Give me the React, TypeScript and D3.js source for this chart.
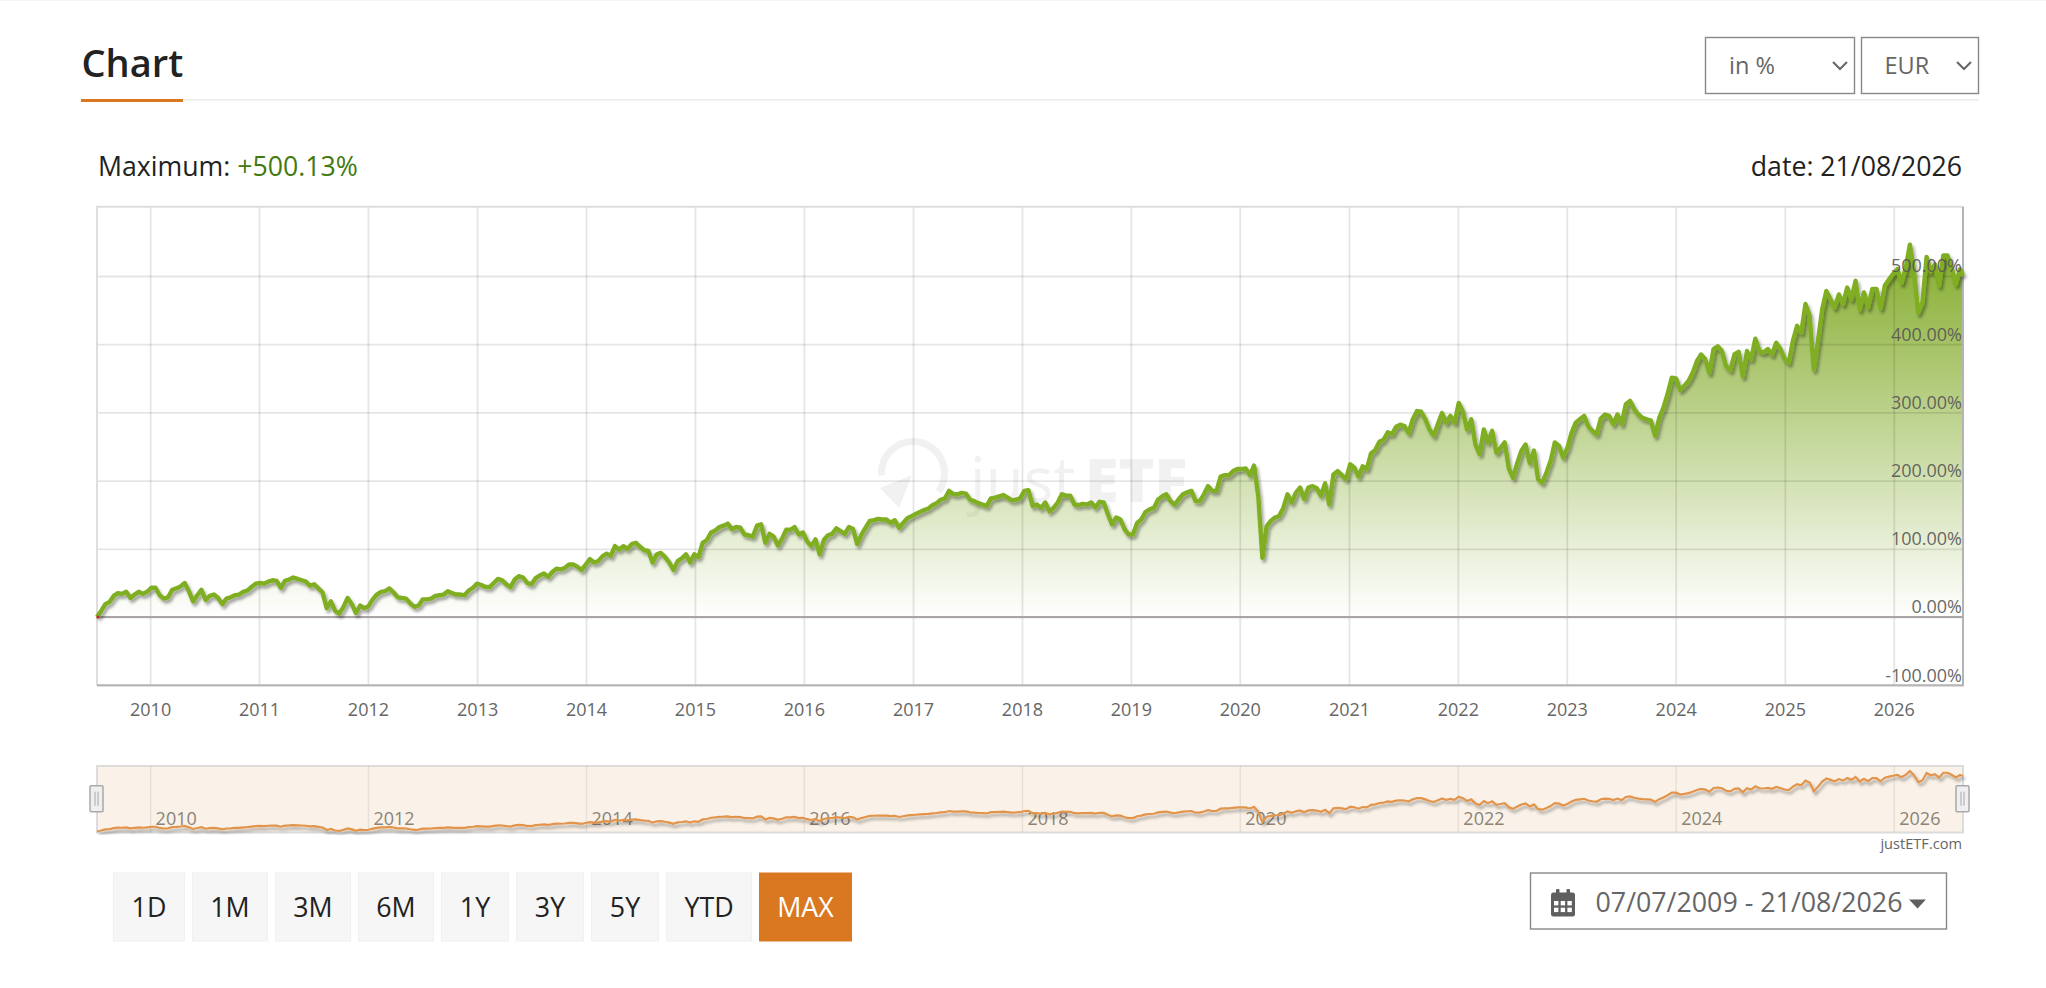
import { useEffect, useRef } from "react";
import * as d3 from "d3";

// cumulative return in %, every 14 days from the start date
const y2009 = [0, 9, 19, 22, 31, 35, 34, 37, 28, 33, 37, 34, 37];
const y2010 = [43, 43, 32, 27, 29, 40, 42, 45, 50, 38, 23, 32, 40, 25, 31, 33, 28, 19, 27, 29, 32, 33, 37, 39, 44, 49];
const y2011 = [50, 49, 52, 54, 53, 43, 53, 55, 58, 56, 54, 52, 46, 48, 42, 36, 13, 23, 9, 5, 15, 28, 19, 6, 17, 13];
const y2012 = [16, 26, 33, 37, 38, 42, 36, 29, 28, 27, 20, 15, 17, 26, 26, 27, 31, 32, 33, 38, 35, 33, 33, 32, 39, 43];
const y2013 = [49, 47, 44, 44, 50, 56, 54, 48, 44, 55, 60, 58, 50, 48, 57, 61, 64, 59, 66, 71, 70, 72, 77, 77, 74, 69, 77];
const y2014 = [85, 80, 82, 89, 93, 90, 104, 99, 104, 100, 107, 109, 103, 98, 97, 80, 92, 94, 88, 80, 69, 82, 86, 92, 80, 92];
const y2015 = [88, 109, 113, 124, 127, 132, 134, 137, 129, 132, 131, 121, 120, 118, 134, 136, 109, 122, 118, 105, 115, 128, 128, 132, 121, 124];
const y2016 = [111, 104, 114, 92, 113, 120, 122, 130, 126, 122, 132, 129, 107, 121, 131, 141, 142, 144, 143, 143, 138, 142, 131, 138, 145, 148];
const y2017 = [151, 154, 157, 159, 164, 167, 172, 174, 185, 180, 180, 182, 181, 172, 170, 167, 165, 163, 174, 175, 177, 179, 175, 171, 172, 174];
const y2018 = [185, 186, 163, 165, 160, 168, 155, 160, 168, 180, 178, 178, 165, 164, 166, 165, 168, 161, 169, 168, 151, 136, 146, 143, 129, 121];
const y2019 = [121, 138, 143, 154, 158, 160, 172, 177, 180, 170, 165, 173, 180, 183, 185, 170, 170, 180, 192, 185, 185, 206, 208, 208, 214, 217];
const y2020 = [217, 218, 208, 222, 178, 87, 133, 141, 146, 148, 160, 180, 168, 182, 190, 173, 190, 192, 189, 178, 196, 165, 209, 214, 208, 202];
const y2021 = [224, 219, 206, 221, 217, 240, 245, 257, 260, 271, 268, 279, 282, 280, 270, 290, 302, 301, 290, 275, 266, 283, 299, 285, 295, 285];
const y2022 = [314, 301, 275, 290, 253, 239, 275, 256, 273, 241, 248, 256, 218, 204, 226, 244, 253, 226, 244, 202, 197, 212, 229, 256, 251, 234];
const y2023 = [248, 270, 285, 290, 295, 280, 273, 268, 291, 297, 295, 283, 297, 283, 312, 317, 305, 297, 292, 290, 288, 266, 292, 307, 327, 351];
const y2024 = [350, 333, 339, 346, 358, 375, 385, 378, 358, 393, 397, 390, 368, 362, 385, 389, 353, 390, 378, 408, 390, 388, 393, 385, 402, 393, 379];
const y2025 = [373, 405, 427, 417, 459, 442, 363, 405, 451, 478, 466, 454, 473, 459, 483, 466, 493, 451, 476, 454, 481, 481, 453, 486, 495, 503];
const y2026 = [510, 490, 512, 546, 507, 446, 461, 528, 507, 517, 486, 530, 530, 512, 488, 510, 500.13];

const yTicks = [-100, 0, 100, 200, 300, 400, 500];
const rangeLabels = ["1D", "1M", "3M", "6M", "1Y", "3Y", "5Y", "YTD", "MAX"];
const rangeWidths = [71, 75, 75, 75, 67, 67, 67, 85, 92];

const startDate = new Date(2009, 6, 7);
const endDate = new Date(2026, 7, 21);
const stepDays = 14;

const values = [
  ...y2009, ...y2010, ...y2011, ...y2012, ...y2013, ...y2014, ...y2015, ...y2016, ...y2017,
  ...y2018, ...y2019, ...y2020, ...y2021, ...y2022, ...y2023, ...y2024, ...y2025, ...y2026,
];
const points = values.map((value, i) => {
  const date = d3.timeDay.offset(startDate, i * stepDays);
  return { date: date > endDate ? endDate : date, value };
});

const font = "'Open Sans', sans-serif";
const orange = "#da7821";
const left = 97;
const right = 1963;
const top = 206.7;
const bottom = 685.3;

const App = () => {
  const chartRef = useRef<SVGGElement | null>(null);

  useEffect(() => {
    if (!chartRef.current) return;
    const g = d3.select(chartRef.current);
    g.selectAll("*").remove();

    const x = d3.scaleTime().domain([startDate, endDate]).range([left, right]);
    const y = d3.scaleLinear().domain([-100, 500]).range([bottom, 276]);
    const navTop = 766;
    const navBottom = 832.5;
    const navY = d3
      .scaleLinear()
      .domain(d3.extent(values) as [number, number])
      .range([831.5, 771]);

    const defs = g.append("defs");
    const gradient = defs
      .append("linearGradient")
      .attr("id", "area-gradient")
      .attr("gradientUnits", "userSpaceOnUse")
      .attr("x1", 0)
      .attr("x2", 0)
      .attr("y1", y(546))
      .attr("y2", y(0));
    gradient.append("stop").attr("offset", "0%").attr("stop-color", "#7ea822").attr("stop-opacity", 0.95);
    gradient.append("stop").attr("offset", "100%").attr("stop-color", "#7ea822").attr("stop-opacity", 0);
    defs
      .append("filter")
      .attr("id", "line-shadow")
      .attr("x", "-2%")
      .attr("y", "-5%")
      .attr("width", "104%")
      .attr("height", "110%")
      .append("feDropShadow")
      .attr("dx", 2)
      .attr("dy", 3)
      .attr("stdDeviation", 1.4)
      .attr("flood-color", "#000")
      .attr("flood-opacity", 0.35);

    // watermark
    const mark = g.append("g").attr("fill", "#f1f1f1");
    const logoX = 913;
    const logoY = 473;
    mark
      .append("path")
      .attr("transform", `translate(${logoX},${logoY})`)
      .attr(
        "d",
        d3.arc()({ innerRadius: 28, outerRadius: 35, startAngle: -1.65, endAngle: 2.2 }) as string,
      );
    mark
      .append("path")
      .attr("transform", `translate(${logoX},${logoY})`)
      .attr("d", d3.line()([[-33, 15], [-1, 2], [-14, 35], [-33, 15]]) as string);
    mark
      .append("text")
      .attr("x", 970)
      .attr("y", 501.7)
      .attr("font-family", font)
      .attr("font-weight", 500)
      .attr("font-size", 62)
      .text("just");
    mark
      .append("text")
      .attr("x", 1085)
      .attr("y", 501.7)
      .attr("font-family", font)
      .attr("font-weight", 800)
      .attr("font-size", 61)
      .text("ETF");

    // area below the line
    const area = d3
      .area<{ date: Date; value: number }>()
      .x((d) => x(d.date))
      .y0(y(0))
      .y1((d) => y(d.value));
    g.append("path").datum(points).attr("d", area).attr("fill", "url(#area-gradient)");

    // grid, on top of the area
    const gridColor = "rgba(0,0,0,0.1)";
    const xGrid = d3
      .axisBottom(x)
      .ticks(d3.timeYear.every(1) as d3.TimeInterval)
      .tickSize(top - bottom)
      .tickFormat(() => "");
    g.append("g")
      .attr("transform", `translate(0,${bottom})`)
      .call(xGrid)
      .call((s) => s.select(".domain").remove())
      .call((s) => s.selectAll(".tick line").attr("stroke", gridColor).attr("stroke-width", 1.8));
    const yGrid = d3
      .axisLeft(y)
      .tickValues(yTicks)
      .tickSize(left - right)
      .tickFormat(() => "");
    g.append("g")
      .attr("transform", `translate(${left},0)`)
      .call(yGrid)
      .call((s) => s.select(".domain").remove())
      .call((s) => s.selectAll(".tick line").attr("stroke", gridColor).attr("stroke-width", 1.8));

    // frame
    const frame = g.append("g").attr("fill", "none");
    frame.append("path").attr("d", `M${left},${bottom}V${top}H${right}`).attr("stroke", "#dedede").attr("stroke-width", 2);
    frame.append("path").attr("d", `M${right},${top}V${bottom}H${left}`).attr("stroke", "#b4b4b4").attr("stroke-width", 2);
    frame.append("line").attr("x1", left).attr("x2", right).attr("y1", y(0)).attr("y2", y(0)).attr("stroke", "#aaa5a5").attr("stroke-width", 2);

    // main line
    const line = d3
      .line<{ date: Date; value: number }>()
      .x((d) => x(d.date))
      .y((d) => y(d.value));
    g.append("path")
      .datum(points)
      .attr("d", line)
      .attr("fill", "none")
      .attr("stroke", "#7fae20")
      .attr("stroke-width", 4.4)
      .attr("stroke-linejoin", "round")
      .attr("filter", "url(#line-shadow)");
    g.append("circle").attr("cx", x(startDate) + 1).attr("cy", y(0)).attr("r", 1.6).attr("fill", "#c0262a");

    // axes
    const xAxis = d3
      .axisBottom(x)
      .ticks(d3.timeYear.every(1) as d3.TimeInterval)
      .tickSize(0)
      .tickFormat(d3.timeFormat("%Y") as (d: Date | d3.NumberValue) => string);
    g.append("g")
      .attr("transform", `translate(0,${bottom})`)
      .call(xAxis)
      .call((s) => s.select(".domain").remove())
      .call((s) =>
        s
          .selectAll("text")
          .attr("y", 31)
          .attr("dy", 0)
          .attr("fill", "#666")
          .attr("font-family", font)
          .attr("font-size", 18),
      );
    const yAxis = d3
      .axisLeft(y)
      .tickValues(yTicks)
      .tickSize(0)
      .tickFormat((d) => `${(d as number).toFixed(2)}%`);
    g.append("g")
      .attr("transform", `translate(${right - 1},0)`)
      .call(yAxis)
      .call((s) => s.select(".domain").remove())
      .call((s) =>
        s
          .selectAll("text")
          .attr("x", 0)
          .attr("dy", -4.2)
          .attr("text-anchor", "end")
          .attr("fill", "#555")
          .attr("fill-opacity", 0.9)
          .attr("font-family", font)
          .attr("font-size", 18),
      );

    // navigator
    g.append("rect")
      .attr("x", left)
      .attr("y", navTop)
      .attr("width", right - left)
      .attr("height", navBottom - navTop)
      .attr("fill", "#faf2e8")
      .attr("stroke", "#dcdcdc")
      .attr("stroke-width", 2);
    const navAxis = d3
      .axisBottom(x)
      .ticks(d3.timeYear.every(2) as d3.TimeInterval)
      .tickSize(navTop - navBottom)
      .tickFormat(d3.timeFormat("%Y") as (d: Date | d3.NumberValue) => string);
    g.append("g")
      .attr("transform", `translate(0,${navBottom})`)
      .call(navAxis)
      .call((s) => s.select(".domain").remove())
      .call((s) => s.selectAll(".tick line").attr("stroke", "rgba(0,0,0,0.07)").attr("stroke-width", 1.5))
      .call((s) =>
        s
          .selectAll("text")
          .attr("x", 5)
          .attr("y", -8)
          .attr("dy", 0)
          .attr("text-anchor", "start")
          .attr("fill", "#8c8377")
          .attr("font-family", font)
          .attr("font-size", 18),
      );
    const navLine = d3
      .line<{ date: Date; value: number }>()
      .x((d) => x(d.date))
      .y((d) => navY(d.value));
    g.append("path")
      .datum(points)
      .attr("d", navLine)
      .attr("fill", "none")
      .attr("stroke", "#e2944c")
      .attr("stroke-width", 2.2)
      .attr("filter", "url(#line-shadow)");

    // navigator handles
    [left, right].forEach((hx) => {
      const handle = g.append("g").attr("transform", `translate(${hx - 0.5},798.7)`);
      handle
        .append("rect")
        .attr("x", -6.5)
        .attr("y", -13)
        .attr("width", 13)
        .attr("height", 26)
        .attr("rx", 1)
        .attr("fill", "#efefef")
        .attr("stroke", "#a9a9a9")
        .attr("stroke-width", 1.5);
      [-1.5, 1.5].forEach((dx) =>
        handle
          .append("line")
          .attr("x1", dx)
          .attr("x2", dx)
          .attr("y1", -7)
          .attr("y2", 7)
          .attr("stroke", "#a9a9a9")
          .attr("stroke-width", 1),
      );
    });
  }, []);

  let buttonX = 113.5;
  const buttons = rangeLabels.map((label, i) => {
    const width = rangeWidths[i];
    const active = label === "MAX";
    const node = (
      <g key={label}>
        <rect
          x={buttonX}
          y={873}
          width={width}
          height={68}
          fill={active ? orange : "#f6f6f6"}
          stroke={active ? orange : "#f0f0f0"}
        />
        <text
          x={buttonX + width / 2}
          y={916.5}
          textAnchor="middle"
          fontSize={26.8}
          fill={active ? "#fff" : "#222"}
        >
          {label}
        </text>
      </g>
    );
    buttonX += width + 8;
    return node;
  });

  return (
    <div style={{ position: "absolute", left: 0, top: 0 }}>
      <svg width={2046} height={988} style={{ display: "block" }} fontFamily={font}>
        <rect x={0} y={0} width={2046} height={1} fill="#f5f5f5" />

        {/* header */}
        <text x={81.5} y={77.3} fontSize={38} fontWeight={600} fill="#222">
          Chart
        </text>
        <rect x={81} y={99} width={1898} height={1.5} fill="#ececec" />
        <rect x={81} y={99} width={102} height={3} fill={orange} />

        <g fill="none" stroke="#888" strokeWidth={1.4}>
          <rect x={1705.5} y={37.5} width={149} height={56} fill="#fff" />
          <rect x={1861.5} y={37.5} width={117} height={56} fill="#fff" />
          <path d="M1833,62l7,7l7,-7" strokeWidth={2} stroke="#666" />
          <path d="M1957,62l7,7l7,-7" strokeWidth={2} stroke="#666" />
        </g>
        <text x={1729} y={74} fontSize={23.5} fill="#666">
          in %
        </text>
        <text x={1884.5} y={74} fontSize={23.5} fill="#666">
          EUR
        </text>

        <text x={98} y={175.7} fontSize={26.7} fill="#222">
          Maximum: <tspan fill="#437a10">+500.13%</tspan>
        </text>
        <text x={1962} y={175.7} fontSize={26.7} fill="#222" textAnchor="end">
          date: 21/08/2026
        </text>

        <g ref={chartRef} />

        <text x={1962} y={849} fontSize={14.6} fill="#666" textAnchor="end">
          justETF.com
        </text>

        {buttons}

        {/* date range picker */}
        <rect x={1530.5} y={873} width={416} height={56} fill="#fff" stroke="#888" strokeWidth={1.4} />
        <g fill="#5f5f5f">
          <rect x={1551} y={892.5} width={24} height={24} rx={2.5} />
          <rect x={1556} y={889} width={3.5} height={6} rx={1} />
          <rect x={1566.5} y={889} width={3.5} height={6} rx={1} />
          <g fill="#fff">
            {[0, 1].map((row) =>
              [0, 1, 2].map((col) => (
                <rect key={`${row}-${col}`} x={1554 + col * 6.7} y={901 + row * 6.7} width={4.4} height={4.4} />
              )),
            )}
          </g>
          <path d="M1909,899.5h17l-8.5,9z" />
        </g>
        <text x={1595.5} y={912} fontSize={26.8} fill="#666">
          07/07/2009 - 21/08/2026
        </text>
      </svg>
    </div>
  );
};

export default App;
